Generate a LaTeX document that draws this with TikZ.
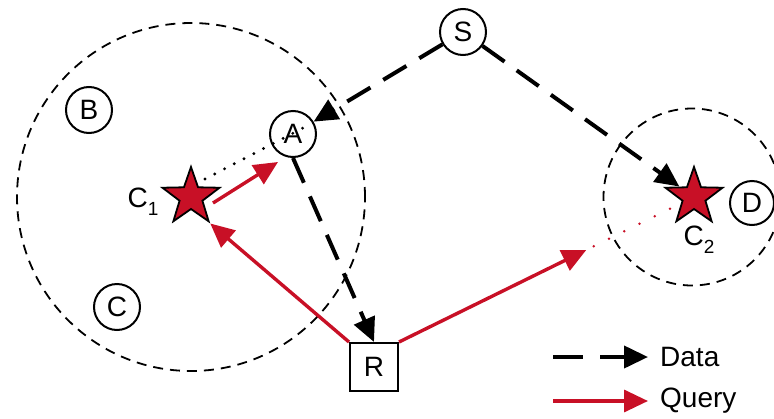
\documentclass[tikz,border=0pt]{standalone}
\usepackage{fontspec}
\setmainfont{Liberation Sans}
\usetikzlibrary{arrows.meta,shapes.geometric,calc}
\definecolor{qred}{RGB}{200,16,38}
\begin{document}
\begin{tikzpicture}[x=1pt,y=-1pt,
  lbl/.style={font=\fontsize{28}{32}\selectfont},
  pt/.style={circle,draw,line width=2pt,fill=white,minimum size=46pt,inner sep=0pt,lbl},
  box/.style={rectangle,draw,line width=2pt,fill=white,minimum size=48pt,inner sep=0pt,lbl},
  cstar/.style={star,star points=5,star point ratio=2.5,minimum size=60pt,inner sep=0pt,draw=black,line width=1.8pt,fill=qred},
  region/.style={circle,draw,line width=1.8pt,dash pattern=on 10pt off 7pt,inner sep=0pt},
  data/.style={draw,line width=4pt,dash pattern=on 27pt off 15pt,-{Triangle[length=24pt,width=22pt]}},
  query/.style={draw=qred,line width=3.4pt,-{Triangle[length=24pt,width=22pt]}},
  dotline/.style={line width=3.2pt,dash pattern=on 0pt off 11pt,line cap=round},
  reddots/.style={draw=qred,line width=2.8pt,dash pattern=on 0pt off 17pt,line cap=round}
]
\useasboundingbox (0,0) rectangle (774,418);
% regions
\node[region,minimum size=348pt] (Z1) at (191,197) {};
\node[region,minimum size=177pt] (Z2) at (692,197) {};
% nodes
\node[pt] (S) at (463,32) {S};
\node[pt] (A) at (293,134) {A};
\node[pt] (B) at (89,110) {B};
\node[pt] (C) at (117,307) {C};
\node[pt,minimum size=44pt] (D) at (752,203) {D};
\node[box] (R) at (374,367) {R};
\node[cstar] (C1) at (191,197) {};
\node[cstar] (C2) at (694,197) {};
\node[lbl,inner sep=0pt] (L1) at (143,202) {C\raisebox{-0.28em}{\fontsize{19}{21}\selectfont 1}};
\node[lbl,inner sep=0pt] (L2) at (699,240) {C\raisebox{-0.28em}{\fontsize{19}{21}\selectfont 2}};
% data flows
\draw[data] (S) -- (A);
\draw[data] (S) -- (C2);
\draw[data] (A.south) -- (R.north);
% query flows
\draw[query] ($(C1)+(22,6)$) -- ($(A)+(-15,28)$);
\draw[query] (R.north west) -- (C1.outer point 4);
\coordinate (q) at ($(R.north east)!0.635!(C2)$);
\draw[query] (R.north east) -- (q);
\draw[reddots] ($(R.north east)!0.66!(C2)$) -- ($(R.north east)!0.94!(C2)$);
% dotted link
\draw[dotline] ($(C1)+(14,-18)$) -- ($(A)+(10,-6)$);
% legend
\coordinate (d1) at (553,357);
\coordinate (d2) at (648,357);
\draw[data,dash pattern=on 30pt off 17pt] (d1) -- (d2);
\node[lbl,anchor=west,inner sep=0pt] (dt) at (660,357) {Data};
\coordinate (q1) at (553,401);
\coordinate (q2) at (648,401);
\draw[query] (q1) -- (q2);
\node[lbl,anchor=west,inner sep=0pt] (qt) at (660,401) {Query};
\end{tikzpicture}
\end{document}
